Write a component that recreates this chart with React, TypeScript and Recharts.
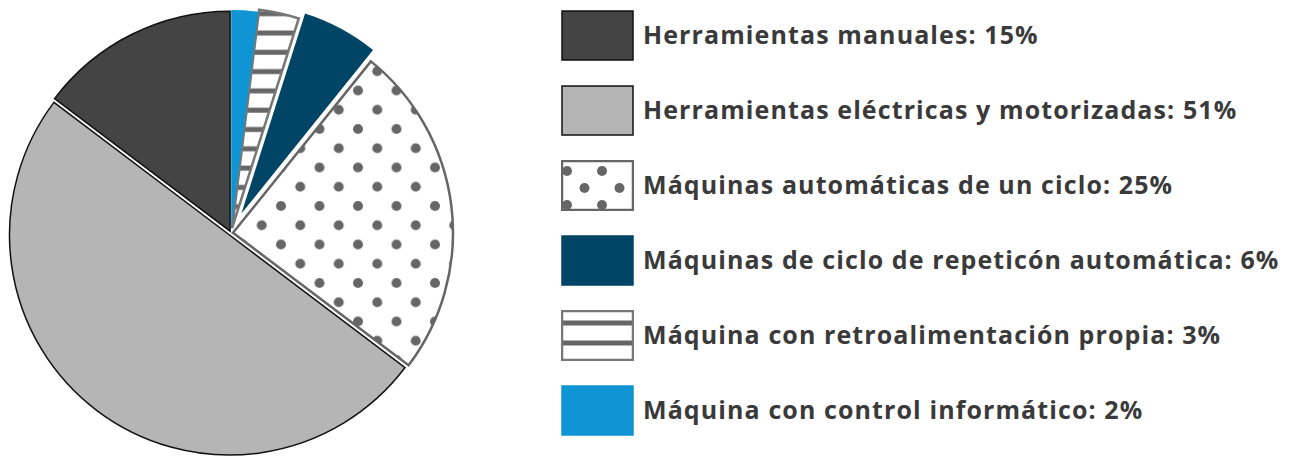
import { PieChart, Pie, Cell, Legend, Sector } from "recharts";

const categories = [
  "Herramientas manuales",
  "Herramientas eléctricas y motorizadas",
  "Máquinas automáticas de un ciclo",
  "Máquinas de ciclo de repeticón automática",
  "Máquina con retroalimentación propia",
  "Máquina con control informático",
];
const percents = [15, 51, 25, 6, 3, 2];
const fills = ["#444444", "#b5b5b5", "url(#dots)", "#004466", "url(#stripes)", "#0f95d3"];
const strokes = ["#111111", "#111111", "#666666", "none", "#777777", "none"];
// how far each slice is pulled out of the pie, and its radius trim
const explode = [2, 2.5, 2, 22, 5, 3];
const radiusTrim = [0, 0, 0, 10, 0, 0];

const data = categories.map((name, i) => ({ name, value: percents[i] }));

const RAD = Math.PI / 180;

const ExplodedSector = (props: any) => {
  const { cx, cy, midAngle, outerRadius, index, ...rest } = props;
  const d = explode[index] ?? 2;
  const dx = d * Math.cos(-midAngle * RAD);
  const dy = d * Math.sin(-midAngle * RAD);
  return (
    <Sector
      {...rest}
      cx={cx + dx}
      cy={cy + dy}
      outerRadius={outerRadius - (radiusTrim[index] ?? 0)}
    />
  );
};

const LegendBox = ({ i }: { i: number }) => {
  const w = 73;
  const h = 51;
  return (
    <svg width={w} height={h} style={{ display: "block", flexShrink: 0 }}>
      <defs>
        <pattern id="ldots" patternUnits="userSpaceOnUse" width={35} height={34} x={6} y={11}>
          <rect width={35} height={34} fill="#fff" />
          <circle cx={0} cy={0} r={5} fill="#666" />
          <circle cx={35} cy={0} r={5} fill="#666" />
          <circle cx={0} cy={34} r={5} fill="#666" />
          <circle cx={35} cy={34} r={5} fill="#666" />
          <circle cx={17.5} cy={17} r={5} fill="#666" />
        </pattern>
        <pattern id="lstripes" patternUnits="userSpaceOnUse" width={73} height={20} x={0} y={3}>
          <rect width={73} height={20} fill="#fff" />
          <rect y={7.5} width={73} height={5} fill="#666" />
        </pattern>
      </defs>
      <rect
        x={1}
        y={1}
        width={w - 2}
        height={h - 2}
        fill={i === 2 ? "url(#ldots)" : i === 4 ? "url(#lstripes)" : fills[i]}
        stroke={strokes[i] === "none" ? fills[i] : strokes[i]}
        strokeWidth={i === 2 || i === 4 ? 2.5 : 1.5}
      />
    </svg>
  );
};

const renderLegend = () => (
  <div>
    {categories.map((name, i) => (
      <div
        key={name}
        style={{ display: "flex", alignItems: "center", height: 51, marginBottom: i < 5 ? 24 : 0 }}
      >
        <LegendBox i={i} />
        <span
          style={{
            marginLeft: 9,
            marginTop: -3,
            fontFamily: "'Open Sans', sans-serif",
            fontWeight: 700,
            fontSize: 25,
            letterSpacing: 1.1,
            color: "#3a3a3a",
            whiteSpace: "nowrap",
          }}
        >
          {`${name}: ${percents[i]}%`}
        </span>
      </div>
    ))}
  </div>
);

export default function App() {
  return (
    <div style={{ position: "absolute", left: 0, top: 0, background: "#fff" }}>
      <PieChart width={1302} height={456} margin={{ top: 0, right: 0, bottom: 0, left: 0 }}>
        <defs>
          <pattern id="dots" patternUnits="userSpaceOnUse" width={38.5} height={38.5} x={11.5} y={13.5}>
            <rect width={38.5} height={38.5} fill="#fff" />
            <circle cx={0} cy={0} r={5} fill="#666" />
            <circle cx={38.5} cy={0} r={5} fill="#666" />
            <circle cx={0} cy={38.5} r={5} fill="#666" />
            <circle cx={38.5} cy={38.5} r={5} fill="#666" />
            <circle cx={19.25} cy={19.25} r={5} fill="#666" />
          </pattern>
          <pattern id="stripes" patternUnits="userSpaceOnUse" width={400} height={19.3} x={0} y={0}>
            <rect width={400} height={19.3} fill="#fff" />
            <rect y={11.2} width={400} height={5} fill="#666" />
          </pattern>
        </defs>
        <Pie
          data={data}
          dataKey="value"
          nameKey="name"
          cx={231}
          cy={233}
          outerRadius={220}
          startAngle={90}
          endAngle={450}
          isAnimationActive={false}
          shape={ExplodedSector}
        >
          {data.map((d, i) => (
            <Cell
              key={d.name}
              fill={fills[i]}
              stroke={strokes[i]}
              strokeWidth={i === 2 || i === 4 ? 2.5 : 1.5}
            />
          ))}
        </Pie>
        <Legend
          layout="vertical"
          align="right"
          verticalAlign="top"
          content={renderLegend}
          wrapperStyle={{ left: 561, top: 10, width: 741 }}
        />
      </PieChart>
    </div>
  );
}
